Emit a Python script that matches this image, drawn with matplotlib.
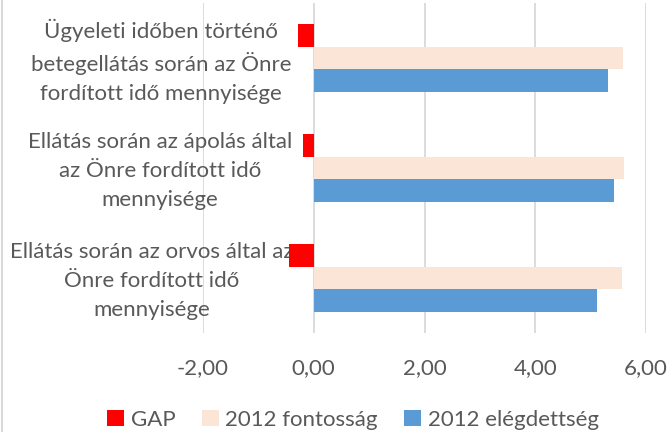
import matplotlib
matplotlib.use("Agg")
import matplotlib.pyplot as plt
from matplotlib.patches import Patch
from matplotlib.lines import Line2D
import numpy as np

plt.rcParams['font.family'] = ['Lato', 'DejaVu Sans']

categories = [
    "Ellátás során az orvos által az\nÖnre fordított idő\nmennyisége",
    "Ellátás során az ápolás által\naz Önre fordított idő\nmennyisége",
    "Ügyeleti időben történő\nbetegellátás során az Önre\nfordított idő mennyisége",
]
gap = [-0.45, -0.19, -0.28]
fontossag = [5.57, 5.61, 5.59]
elegedettseg = [5.12, 5.42, 5.31]
series_names = ["GAP", "2012 fontosság", "2012 elégdettség"]
xticks = [-2, 0, 2, 4, 6]

colors = ["#FF0000", "#FBE5D6", "#5B9BD5"]
text_color = "#595959"
fs = 16

W, H = 670, 432
fig = plt.figure(figsize=(W / 100, H / 100), dpi=100)
left, right, top, bottom = 203, 646, 3, 333
ax = fig.add_axes([left / W, (H - bottom) / H, (right - left) / W, (bottom - top) / H])

y = np.arange(len(categories))
h = 0.209
ax.barh(y + h, gap, height=h, color=colors[0], zorder=3)
ax.barh(y, fontossag, height=h, color=colors[1], zorder=3)
ax.barh(y - h, elegedettseg, height=h, color=colors[2], zorder=3)

ax.set_xlim(-2, 6)
ax.set_ylim(-0.5, len(categories) - 0.5)
ax.set_xticks(xticks)
ax.set_xticklabels([f"{v:.2f}".replace('.', ',') for v in xticks],
                   fontsize=fs, color=text_color)
ax.tick_params(axis='x', length=0, pad=18)
ax.set_yticks([])
ax.grid(axis='x', color="#D9D9D9", linewidth=1.3, zorder=0)
for s in ax.spines.values():
    s.set_visible(False)

# category labels
xs_px = [152, 160, 161]
for i, lab in enumerate(categories):
    xd = (xs_px[i] - 314) / 55.4
    ax.text(xd, y[i] - 0.03, lab, ha='center', va='center', multialignment='center',
            fontsize=fs, color=text_color, linespacing=1.55, clip_on=False, zorder=2)

handles = [Patch(facecolor=c, edgecolor='none') for c in colors]
fig.legend(handles, series_names, loc='center', ncol=3,
           bbox_to_anchor=(353 / W, 1 - 420 / H), frameon=False,
           fontsize=fs, labelcolor=text_color, handlelength=0.75, handleheight=0.75,
           handletextpad=0.3, columnspacing=1.2, borderpad=0)

fig.add_artist(Line2D([1.5 / W, 1.5 / W], [0, 1], color="#D9D9D9", linewidth=1.5,
                      transform=fig.transFigure))

fig.savefig("out.png", dpi=100, facecolor='white')
